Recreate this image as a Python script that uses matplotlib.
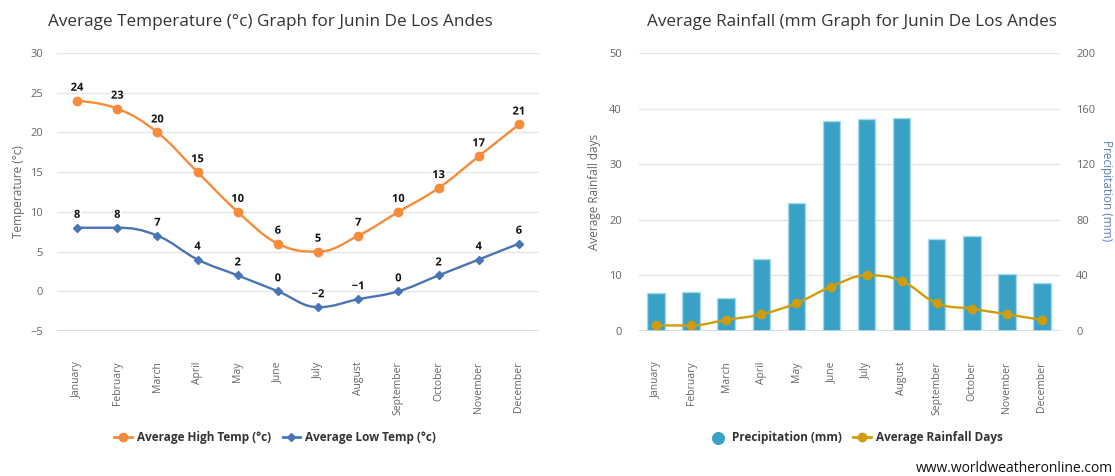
import matplotlib
matplotlib.use("Agg")
import matplotlib.pyplot as plt
from matplotlib.path import Path
from matplotlib.patches import PathPatch
import matplotlib.patheffects as pe
import numpy as np

plt.rcParams['font.family'] = ['Open Sans', 'DejaVu Sans']

months = ["January", "February", "March", "April", "May", "June", "July",
          "August", "September", "October", "November", "December"]
high_temp = [24, 23, 20, 15, 10, 6, 5, 7, 10, 13, 17, 21]
low_temp = [8, 8, 7, 4, 2, 0, -2, -1, 0, 2, 4, 6]
precip_mm = [27.6, 28.4, 24.0, 52.0, 92.0, 151.2, 152.8, 153.2, 66.4, 68.4, 40.8, 34.8]
rain_days = [1, 1, 2, 3, 5, 8, 10, 9, 5, 4, 3, 2]

temp_ticks = [-5, 0, 5, 10, 15, 20, 25, 30]
days_ticks = [0, 10, 20, 30, 40, 50]
precip_ticks = [0, 40, 80, 120, 160, 200]

ORANGE = "#f88b3a"
BLUE = "#4a74b3"
BAR = "#38a1c5"
GOLD = "#cf9c0c"
GRID = "#e6e6e6"
TICK = "#666666"


def spline_path(xs, ys, smoothing=1.5):
    n = len(xs)
    denom = smoothing + 1
    lc = [None] * n
    rc = [None] * n
    for i in range(n):
        x, y = xs[i], ys[i]
        if 0 < i < n - 1:
            lx, ly = xs[i - 1], ys[i - 1]
            nx, ny = xs[i + 1], ys[i + 1]
            lcx = (smoothing * x + lx) / denom
            lcy = (smoothing * y + ly) / denom
            rcx = (smoothing * x + nx) / denom
            rcy = (smoothing * y + ny) / denom
            corr = 0
            if rcx != lcx:
                corr = ((rcy - lcy) * (rcx - x)) / (rcx - lcx) + y - rcy
            lcy += corr
            rcy += corr
            if lcy > ly and lcy > y:
                lcy = max(ly, y); rcy = 2 * y - lcy
            elif lcy < ly and lcy < y:
                lcy = min(ly, y); rcy = 2 * y - lcy
            if rcy > ny and rcy > y:
                rcy = max(ny, y); lcy = 2 * y - rcy
            elif rcy < ny and rcy < y:
                rcy = min(ny, y); lcy = 2 * y - rcy
            lc[i] = (lcx, lcy)
            rc[i] = (rcx, rcy)
        else:
            lc[i] = (x, y)
            rc[i] = (x, y)
    verts = [(xs[0], ys[0])]
    codes = [Path.MOVETO]
    for i in range(1, n):
        verts += [rc[i - 1], lc[i], (xs[i], ys[i])]
        codes += [Path.CURVE4] * 3
    return Path(verts, codes)


def style_axis(ax):
    for s in ax.spines.values():
        s.set_visible(False)
    ax.tick_params(axis='both', length=0, colors=TICK, labelsize=8)


fig = plt.figure(figsize=(11.15, 4.76), dpi=100)

# ---------- Left chart ----------
ax1 = fig.add_axes([57 / 1115, 1 - 331 / 476, 482 / 1115, 278 / 476])
x = np.arange(len(months))
ax1.set_xlim(-0.5, 11.5)
ax1.set_ylim(-5, 30)
ax1.set_yticks(temp_ticks)
ax1.yaxis.grid(True, color=GRID, linewidth=1)
ax1.set_axisbelow(True)
style_axis(ax1)
ax1.axhline(-5, color="#ccd6eb", linewidth=1.2, zorder=1)
ax1.set_xticks(x)
ax1.set_xticklabels(months, rotation=90, fontsize=7.5, color=TICK, va='top')
ax1.tick_params(axis='x', pad=22)
ax1.tick_params(axis='y', pad=10)
ax1.set_ylabel("Temperature (°c)", color=TICK, fontsize=8.5, labelpad=4)

ax1.add_patch(PathPatch(spline_path(list(x), high_temp), fill=False, edgecolor=ORANGE, lw=1.7, zorder=3))
ax1.add_patch(PathPatch(spline_path(list(x), low_temp), fill=False, edgecolor=BLUE, lw=1.7, zorder=3))
ax1.plot(x, high_temp, linestyle='none', marker='o', ms=6, color=ORANGE, zorder=4)
ax1.plot(x, low_temp, linestyle='none', marker='D', ms=4.5, color=BLUE, zorder=4)
for xi, v in zip(x, high_temp):
    ax1.annotate(str(v), (xi, v), xytext=(0, 5), textcoords='offset points', ha='center', va='bottom',
                 fontsize=8, fontweight='bold', color='#111111',
                 path_effects=[pe.withStroke(linewidth=2.5, foreground='white')], zorder=5)
for xi, v in zip(x, low_temp):
    ax1.annotate(str(v).replace('-', '−'), (xi, v), xytext=(0, 5), textcoords='offset points', ha='center', va='bottom',
                 fontsize=8, fontweight='bold', color='#111111',
                 path_effects=[pe.withStroke(linewidth=2.5, foreground='white')], zorder=5)

h1, = ax1.plot([], [], color=ORANGE, marker='o', ms=6, lw=2)
h2, = ax1.plot([], [], color=BLUE, marker='D', ms=4.5, lw=2)
fig.legend([h1, h2], ["Average High Temp (°c)", "Average Low Temp (°c)"],
           loc='center', bbox_to_anchor=(275 / 1115, 1 - 438 / 476), ncol=2, frameon=False,
           prop={'weight': 'bold', 'size': 8.5}, labelcolor='#333333', handlelength=1.5,
           handletextpad=0.4, columnspacing=1.0)

fig.text(270 / 1115, 1 - 22 / 476, "Average Temperature (°c) Graph for Junin De Los Andes",
         ha='center', va='center', fontsize=12.3, color='#333333')

# ---------- Right chart ----------
ax2 = fig.add_axes([638.5 / 1115, 1 - 331 / 476, 421 / 1115, 278 / 476])
ax3 = ax2.twinx()

ax2.set_xlim(-0.5, 11.5)
ax2.set_ylim(0, 200)
ax2.set_yticks(precip_ticks)
ax2.yaxis.grid(True, color=GRID, linewidth=1)
ax2.set_axisbelow(True)
style_axis(ax2)
ax2.bar(x, precip_mm, width=0.5, color=BAR, edgecolor='#a6d9ec', linewidth=1, zorder=2)
ax2.axhline(0, color="#ccd6eb", linewidth=1.2, zorder=3)
ax2.set_xticks(x)
ax2.set_xticklabels(months, rotation=90, fontsize=7.5, color=TICK, va='top')
ax2.tick_params(axis='x', pad=22)

ax3.set_ylim(0, 50)
ax3.set_yticks(days_ticks)
style_axis(ax3)
ax3.add_patch(PathPatch(spline_path(list(x), rain_days), fill=False, edgecolor=GOLD, lw=1.7, zorder=3))
ax3.plot(x, rain_days, linestyle='none', marker='o', ms=6, color=GOLD, zorder=4)

# place precipitation ticks on the right, rainfall days on the left
ax2.yaxis.tick_right()
ax3.yaxis.tick_left()
ax3.yaxis.set_label_position('left')
ax2.tick_params(axis='y', length=0, pad=12, colors=TICK, labelsize=8)
ax3.tick_params(axis='y', length=0, pad=12, colors=TICK, labelsize=8)
ax3.set_ylabel("Average Rainfall days", color=TICK, fontsize=8.5, labelpad=6)
fig.text(1106 / 1115, 1 - 191 / 476, "Precipitation (mm)", color="#5b7fbf", fontsize=8.5,
         rotation=270, ha='center', va='center')

h3 = ax2.scatter([], [], s=70, color=BAR)
h4, = ax3.plot([], [], color=GOLD, marker='o', ms=6, lw=2)
fig.legend([h3, h4], ["Precipitation (mm)", "Average Rainfall Days"],
           loc='center', bbox_to_anchor=(856 / 1115, 1 - 438 / 476), ncol=2, frameon=False,
           prop={'weight': 'bold', 'size': 8.5}, labelcolor='#333333', handlelength=1.5,
           handletextpad=0.4, columnspacing=1.0)

fig.text(852 / 1115, 1 - 22 / 476, "Average Rainfall (mm Graph for Junin De Los Andes",
         ha='center', va='center', fontsize=12.3, color='#333333')

fig.text(1113 / 1115, 1 - 468 / 476, "www.worldweatheronline.com", ha='right', va='center',
         fontsize=10, color='#111111')

fig.savefig("out.png", dpi=100, facecolor='white')
